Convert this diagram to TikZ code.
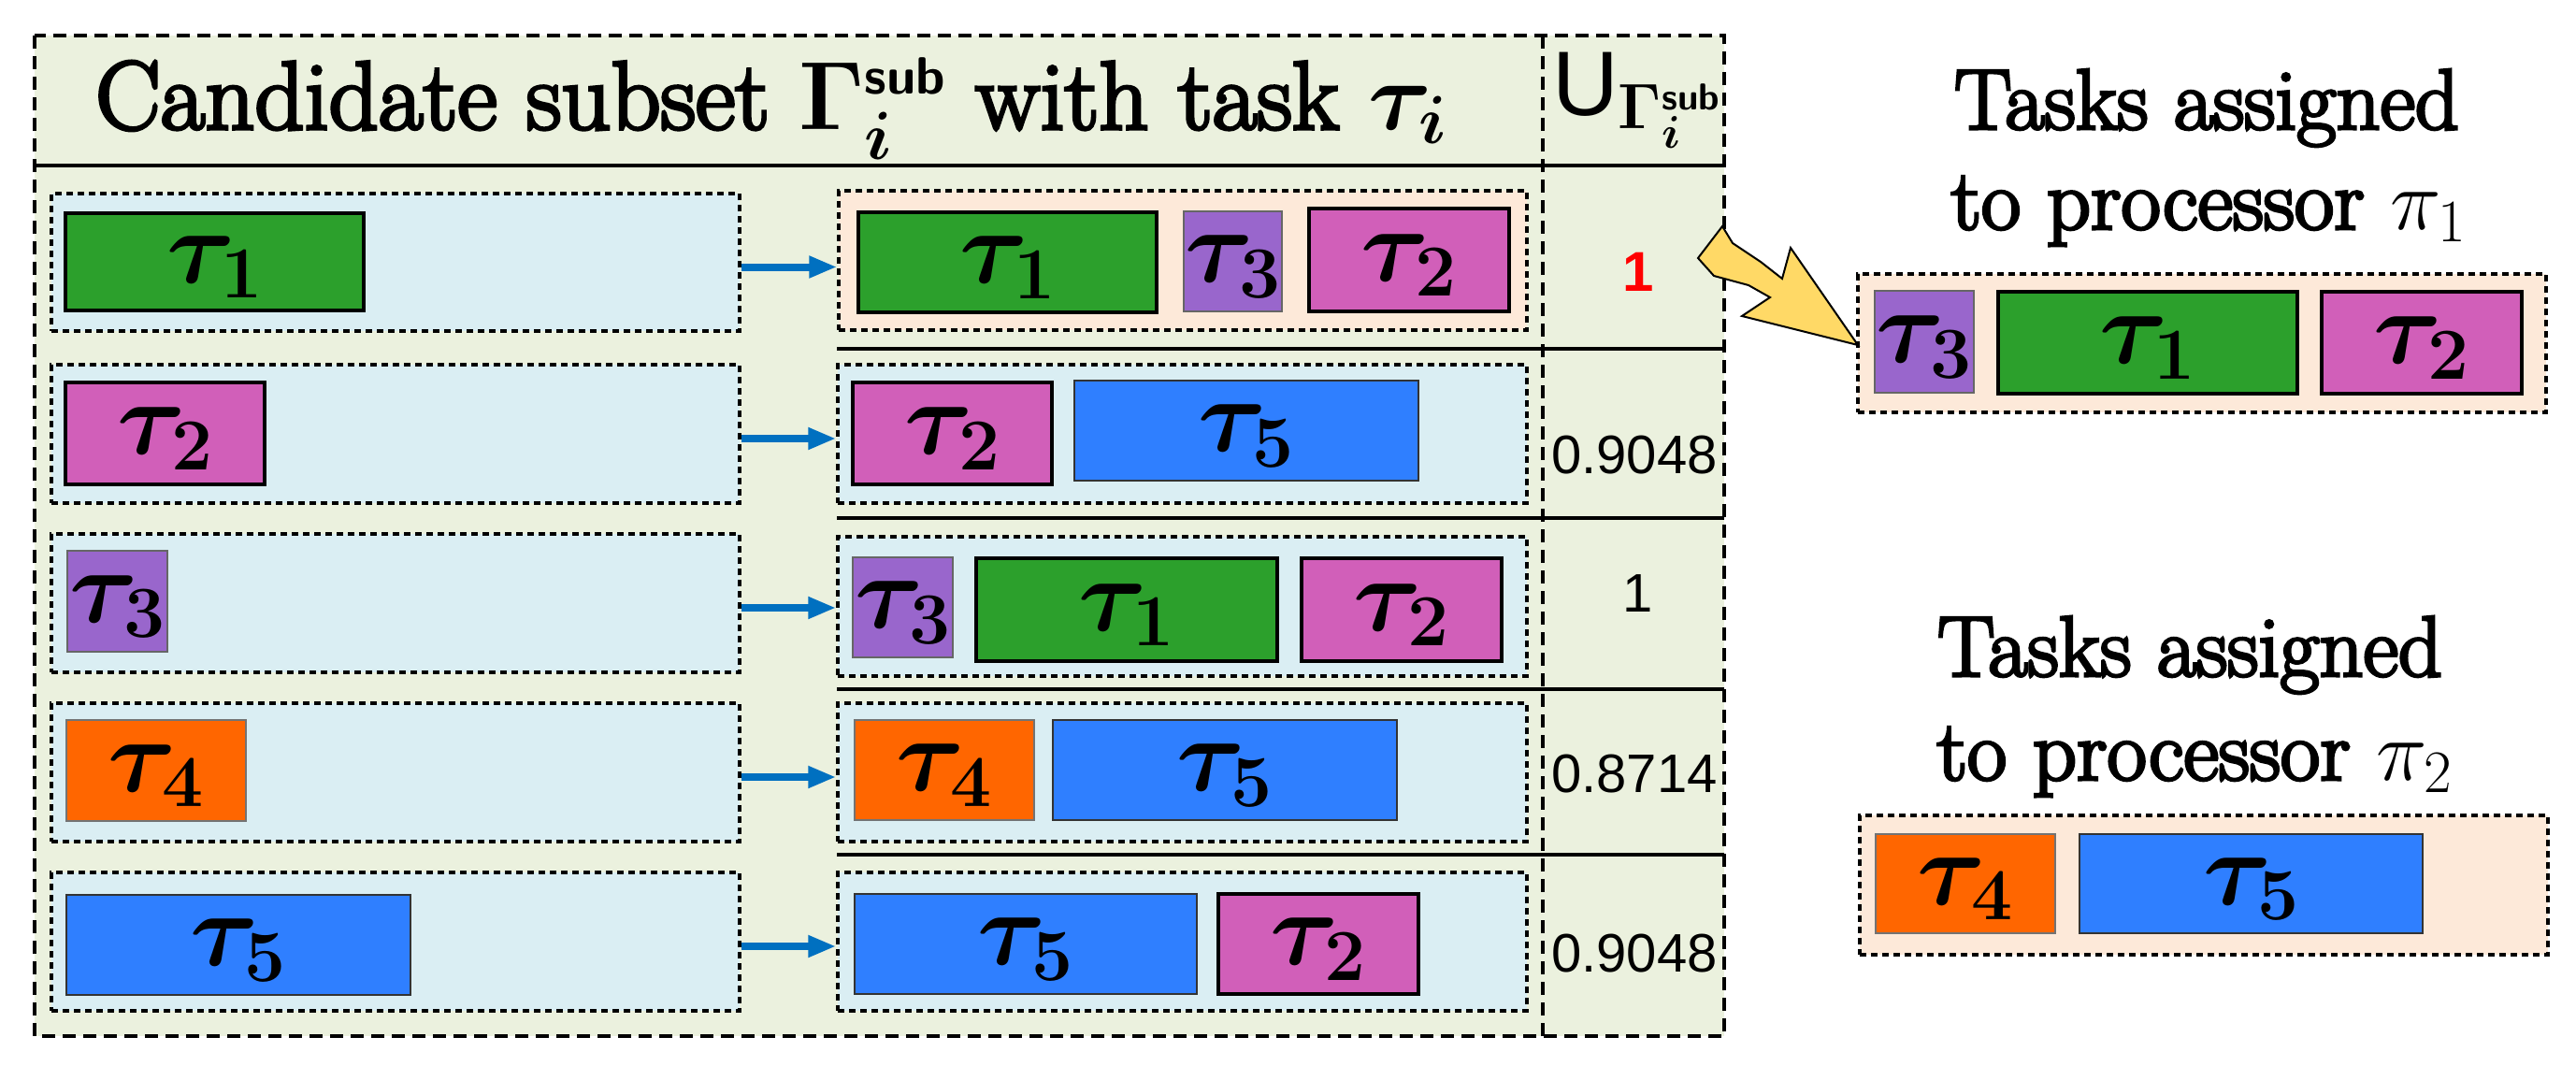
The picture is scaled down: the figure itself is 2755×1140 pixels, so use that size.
\documentclass[tikz,border=0pt]{standalone}
\usepackage{fix-cm}
\usepackage{amsmath}
\usepackage{fontspec}
\newfontfamily\hfont{Latin Modern Roman}[FakeBold=3.5]
\newfontfamily\arialf{Liberation Sans}
\usetikzlibrary{fit,arrows.meta}
\definecolor{tablebg}{HTML}{EBF1DE}
\definecolor{lblue}{HTML}{DAEEF3}
\definecolor{peach}{HTML}{FDE9D9}
\definecolor{tgreen}{HTML}{2CA02C}
\definecolor{tpink}{HTML}{D15FB9}
\definecolor{tpurple}{HTML}{9966CC}
\definecolor{torange}{HTML}{FF6600}
\definecolor{tblue}{HTML}{2F7FFF}
\definecolor{arrblue}{HTML}{0070C0}
\definecolor{bolt}{HTML}{FFD966}
\newcommand\taskbox[7]{\node[tk,#6,fit={(#2,#3) (#4,#5)}] (#1) {};
  \node[lbl] (#1l) at ([yshift=-22pt]#1.center) {$\tau_{#7}$};}
\newcommand\contbox[6]{\node[cont,fill=#6,fit={(#2,#3) (#4,#5)}] (#1) {};}
\begin{document}
\begin{tikzpicture}[x=1pt,y=-1pt,
  tk/.style={draw=black,line width=3.5pt,inner sep=0pt},
  lbl/.style={inner sep=0pt,anchor=base,font=\fontsize{112}{112}\selectfont\boldmath},
  c1/.style={fill=tgreen},
  c2/.style={fill=tpink},
  c3/.style={fill=tpurple,draw=black!60,line width=2pt},
  c4/.style={fill=torange,draw=black!55,line width=2pt},
  c5/.style={fill=tblue,draw=black!80,line width=2.5pt},
  cont/.style={draw=black,line width=3.5pt,dash pattern=on 7pt off 5pt,inner sep=0pt},
  outer/.style={draw=black,line width=4.5pt,dash pattern=on 14pt off 8pt},
  sep/.style={draw=black,line width=4.5pt},
  arr/.style={draw=arrblue,line width=8pt,-{Triangle[length=30pt,width=22pt]}},
  val/.style={font=\arialf\fontsize{58}{58}\selectfont,inner sep=0pt},
  ttl/.style={font=\hfont\fontsize{92}{92}\selectfont,inner sep=0pt,anchor=base}
]
\useasboundingbox (0,0) rectangle (2755,1140);
% table
\node[fill=tablebg,inner sep=0pt,fit={(37,38) (1844,1108)}] (tbl) {};
\draw[sep] (37,177) -- (1844,177);
\foreach \yy in {373,554,737,914} \draw[sep] (895,\yy) -- (1844,\yy);
\draw[outer] (1650,38) -- (1650,1108);
\draw[outer] (37,38) rectangle (1844,1108);
% header
\node[font=\hfont\fontsize{104}{104}\selectfont\boldmath,inner sep=0pt,anchor=base] (hdr) at (825,138)
  {Candidate subset $\Gamma^{\text{\fontsize{56}{56}\selectfont\sffamily\bfseries sub}}_{i}$ with task $\tau_i$};
\node[font=\fontsize{98}{98}\selectfont\boldmath,inner sep=0pt,anchor=base west] (uh) at (1660,123)
  {{\arialf U}$_{\Gamma^{\text{\fontsize{40}{40}\selectfont\sffamily\bfseries sub}}_{i}}$};
% left containers
\contbox{L1}{55}{207}{791}{354}{lblue}
\contbox{L2}{55}{390}{791}{538}{lblue}
\contbox{L3}{55}{571}{791}{719}{lblue}
\contbox{L4}{55}{752}{791}{900}{lblue}
\contbox{L5}{55}{933}{791}{1081}{lblue}
% right containers
\contbox{R1}{897}{204}{1633}{353}{peach}
\contbox{R2}{896}{390}{1633}{538}{lblue}
\contbox{R3}{896}{574}{1633}{723}{lblue}
\contbox{R4}{896}{752}{1633}{900}{lblue}
\contbox{R5}{896}{933}{1633}{1081}{lblue}
% left tasks
\taskbox{a1}{70}{228}{389}{332}{c1}{1}
\taskbox{a2}{70}{409}{283}{518}{c2}{2}
\taskbox{a3}{72}{589}{179}{697}{c3}{3}
\taskbox{a4}{71}{770}{263}{878}{c4}{4}
\taskbox{a5}{71}{957}{439}{1064}{c5}{5}
% right tasks
\taskbox{b11}{918}{227}{1237}{334}{c1}{1}
\taskbox{b13}{1266}{226}{1371}{333}{c3}{3}
\taskbox{b12}{1400}{223}{1614}{333}{c2}{2}
\taskbox{b22}{912}{409}{1125}{518}{c2}{2}
\taskbox{b25}{1149}{407}{1517}{514}{c5}{5}
\taskbox{b33}{912}{596}{1019}{703}{c3}{3}
\taskbox{b31}{1044}{597}{1366}{707}{c1}{1}
\taskbox{b32}{1392}{597}{1606}{707}{c2}{2}
\taskbox{b44}{914}{770}{1106}{877}{c4}{4}
\taskbox{b45}{1126}{770}{1494}{877}{c5}{5}
\taskbox{b55}{914}{956}{1280}{1063}{c5}{5}
\taskbox{b52}{1303}{956}{1517}{1063}{c2}{2}
% arrows
\foreach \k in {1,...,5} \draw[arr] ([yshift=-5pt]L\k.east) -- ([yshift=-5pt]L\k.east -| R\k.west);
% values
\node[val,text=red,font=\arialf\bfseries\fontsize{60}{60}\selectfont] (v1) at (1752,291) {1};
\node[val] (v2) at (1748,487) {0.9048};
\node[val] (v3) at (1752,635) {1};
\node[val] (v4) at (1748,828) {0.8714};
\node[val] (v5) at (1748,1020) {0.9048};
% processor 1
\node[ttl] (p1a) at (2360,138) {Tasks assigned};
\node[ttl] (p1b) at (2362,245) {to processor $\pi_1$};
\contbox{P1}{1987}{293}{2723}{441}{peach}
\taskbox{q13}{2005}{311}{2111}{420}{c3}{3}
\taskbox{q11}{2137}{312}{2457}{421}{c1}{1}
\taskbox{q12}{2483}{312}{2697}{421}{c2}{2}
% processor 2
\node[ttl] (p2a) at (2342,723) {Tasks assigned};
\node[ttl] (p2b) at (2347,834) {to processor $\pi_2$};
\contbox{P2}{1989}{872}{2725}{1021}{peach}
\taskbox{q24}{2006}{892}{2198}{998}{c4}{4}
\taskbox{q25}{2224}{892}{2591}{998}{c5}{5}
% lightning arrow
\draw[fill=bolt,line width=2pt,line join=miter] (1816,276) -- (1842,242) -- (1853,260) -- (1883,280) -- (1906,298) -- (1915,265) -- (1987,369) -- (1863,338) -- (1893,318) -- (1870,305) -- (1833,295) -- cycle;
\end{tikzpicture}
\end{document}
